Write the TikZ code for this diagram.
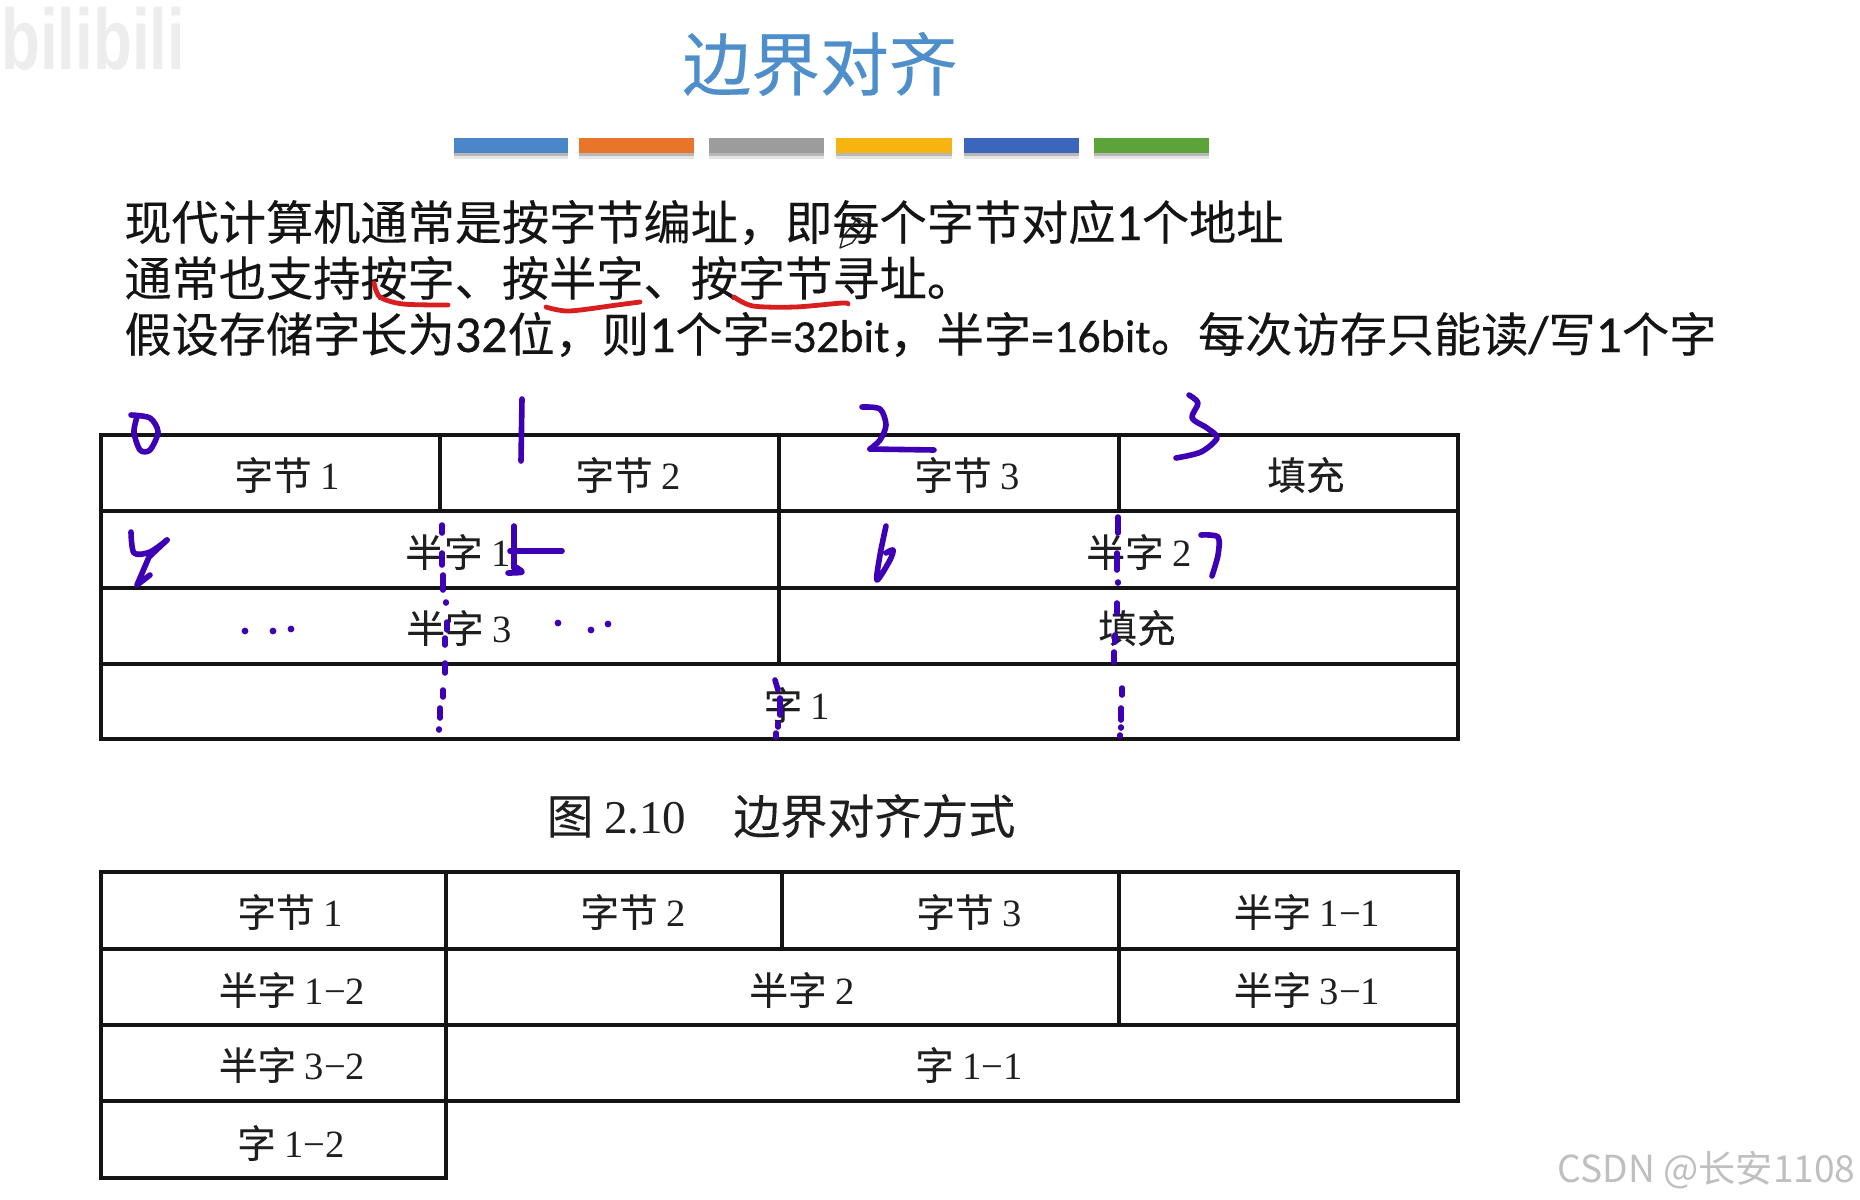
\documentclass[tikz,border=0pt]{standalone}
\usepackage{fontspec}
\setmainfont{Liberation Serif}
\newfontfamily\cjk{Noto Sans CJK SC}
\newfontfamily\cjkb[FakeBold=0.35]{Noto Sans CJK SC}
\newfontfamily\cjkc[FakeBold=0.15]{Noto Sans CJK SC}
\newfontfamily\wmfont{Liberation Sans}
\newfontfamily\bodylatin[FakeBold=0.5]{Carlito}
\newcommand{\fsz}[1]{\fontsize{#1}{#1}\selectfont}
\definecolor{inkblue}{HTML}{3D00B5}
\definecolor{inkred}{HTML}{D81E1E}
\definecolor{titleblue}{HTML}{4E8FCB}
\definecolor{rulec}{HTML}{141414}
\definecolor{barA}{HTML}{4A86C8}
\definecolor{barB}{HTML}{E8752A}
\definecolor{barC}{HTML}{9C9C9C}
\definecolor{barD}{HTML}{F7B30F}
\definecolor{barE}{HTML}{3A66BC}
\definecolor{barF}{HTML}{5CA33A}
\tikzset{
  x=0.5pt,y=-0.5pt,
  cellbox/.style={draw=rulec,line width=1.8pt,line join=miter},
  cell/.style={inner sep=0pt,font=\fsz{19.3}\cjkc,text=black!88},
  bodyline/.style={inner sep=0pt,anchor=base west,font=\fsz{23.6}\cjkc,text=black!92},
  inkstroke/.style={draw=inkblue,line width=2.8pt,line cap=round,line join=round},
  inkdash/.style={draw=inkblue,line width=2.8pt,line cap=round},
  inkdot/.style={fill=inkblue},
  redink/.style={draw=inkred,line width=2.4pt,line cap=round,line join=round},
}
\newcommand{\lat}[1]{{\rmfamily #1}}
\newcommand{\bl}[1]{{\bodylatin\fontsize{26}{26}\selectfont #1}}
\newcommand{\bls}[1]{{\bodylatin\fontsize{23}{23}\selectfont #1}}
\newcommand{\colorbar}[3]{%
  \fill[black!10] (#1,145) rectangle (#2,159);
  \fill[black!28] (#1,143) rectangle (#2,156);
  \fill[#3] (#1,138) rectangle (#2,153);}
\begin{document}
\begin{tikzpicture}
\useasboundingbox[fill=white] (0,0) rectangle (1860,1200);

% faint logo watermark
\node[inner sep=0pt,anchor=base west,font=\fsz{43}\bfseries\wmfont,text=black!7,xscale=0.74,transform shape] (logo) at (1,69) {bilibili};

% title and colour bars
\node[inner sep=0pt,font=\fsz{34.4}\cjkb,text=titleblue] (title) at (820,64) {边界对齐};
\colorbar{454}{568}{barA}
\colorbar{579}{694}{barB}
\colorbar{709}{824}{barC}
\colorbar{836}{952}{barD}
\colorbar{964}{1079}{barE}
\colorbar{1094}{1209}{barF}

% body text
\node[bodyline] (l1) at (124,240) {现代计算机通常是按字节编址，即每个字节对应\bl{1}个地址};
\node[bodyline] (l2) at (124,296) {通常也支持按字、按半字、按字节寻址。};
\node[bodyline] (l3) at (124,352) {假设存储字长为\bl{32}位，则\bl{1}个字\bls{=32bit}，半字\bls{=16bit}。每次访存只能读\bl{/}写\bl{1}个字};

% pencil cursor over the first line
\draw[black!85,line width=0.7pt,line join=round] (840,248) -- (843,237) -- (858,218) -- (867,223) -- (852,243) -- cycle;

% table 1
\draw[cellbox] (101,435) rectangle (1458,739);
\draw[cellbox] (101,511) -- (1458,511);
\draw[cellbox] (101,588) -- (1458,588);
\draw[cellbox] (101,664) -- (1458,664);
\draw[cellbox] (440,435) -- (440,511);
\draw[cellbox] (779,435) -- (779,664);
\draw[cellbox] (1119,435) -- (1119,511);

\node[cell] (a1) at (287,475) {字节 \lat{1}};
\node[cell] (a2) at (628,475) {字节 \lat{2}};
\node[cell] (a3) at (967,475) {字节 \lat{3}};
\node[cell] (a4) at (1306,475) {填充};
\node[cell] (a5) at (458,552) {半字 \lat{1}};
\node[cell] (a6) at (1139,552) {半字 \lat{2}};
\node[cell] (a7) at (459,628) {半字 \lat{3}};
\node[cell] (a8) at (1137,628) {填充};
\node[cell] (a9) at (797,705) {字 \lat{1}};

% caption
\node[inner sep=0pt,font=\fsz{23.5}\cjkc,text=black!88] (cap) at (781,816) {图 \lat{2.10}\hspace{1em}边界对齐方式};

% table 2
\draw[cellbox] (101,872) rectangle (1458,1101);
\draw[cellbox] (101,949) -- (1458,949);
\draw[cellbox] (101,1025) -- (1458,1025);
\draw[cellbox] (446,872) -- (446,1178) -- (101,1178) -- (101,1101);
\draw[cellbox] (782,872) -- (782,949);
\draw[cellbox] (1119,872) -- (1119,1025);

\node[cell] (b1) at (290,912) {字节 \lat{1}};
\node[cell] (b2) at (633,912) {字节 \lat{2}};
\node[cell] (b3) at (969,912) {字节 \lat{3}};
\node[cell] (b4) at (1307,912) {半字 \lat{1−1}};
\node[cell] (b5) at (292,990) {半字 \lat{1−2}};
\node[cell] (b6) at (802,990) {半字 \lat{2}};
\node[cell] (b7) at (1307,990) {半字 \lat{3−1}};
\node[cell] (b8) at (292,1065) {半字 \lat{3−2}};
\node[cell] (b9) at (969,1065) {字 \lat{1−1}};
\node[cell] (b10) at (291,1143) {字 \lat{1−2}};

% CSDN watermark
\node[inner sep=0pt,anchor=east,font=\fsz{18.6}\cjk,text=black!25] (csdn) at (1856,1170) {CSDN @长安1108};

% red handwriting
\draw[redink] plot[smooth] coordinates {(374,283) (380,297) (403,304) (448,305)};
\draw[redink] plot[smooth] coordinates {(546,307) (569,311) (617,305) (640,302)};
\draw[redink] plot[smooth] coordinates {(734,297) (753,306) (795,307) (842,303) (848,304)};

% blue handwriting: digits
\draw[inkstroke] plot[smooth] coordinates {(131,415) (150,418) (158,432) (150,450) (140,450) (134,432) (137,417)};
\draw[inkstroke] (522,399) -- (521,461);
\draw[inkstroke] plot[smooth] coordinates {(862,407) (880,409) (886,425) (880,440) (870,449)};
\draw[inkstroke] (870,449) -- (934,450);
\draw[inkstroke] plot[smooth] coordinates {(1189,395) (1198,403) (1192,418) (1207,428) (1217,438) (1201,452) (1176,458)};
\draw[inkstroke] plot[smooth] coordinates {(131,532) (134,553) (150,552) (167,540)};
\draw[inkstroke] (167,540) -- (149,557) -- (137,585) -- (150,575);
\draw[inkstroke] (514,526) -- (514,568);
\draw[inkstroke] (510,551) -- (562,551);
\draw[inkstroke] plot[smooth] coordinates {(514,566) (522,572) (508,573)};
\draw[inkstroke] plot[smooth] coordinates {(886,526) (880,555) (877,580) (890,560) (893,550) (886,553)};
\draw[inkstroke] plot[smooth] coordinates {(1201,535) (1218,537) (1218,555) (1212,576)};

% blue handwriting: dotted boundaries
\foreach \xa/\ya/\xb/\yb in {
  442/525/442/533, 442/553/442/565, 443/575/443/590, 446/602/446/603, 447/622/447/630,
  445/638/445/645, 445/663/445/673, 443/690/443/697, 440/708/440/718, 439/729/439/730,
  775/680/778/690, 780/698/780/715, 778/723/778/727, 776/733/776/737,
  1118/517/1118/533, 1117/553/1117/570, 1118/582/1118/583, 1117/603/1117/613,
  1115/635/1115/642, 1114/652/1114/662, 1122/688/1122/695, 1121/708/1121/720,
  1121/727/1121/728, 1120/735/1120/736}
  {\draw[inkdash] (\xa,\ya) -- (\xb,\yb);}
\foreach \xa/\ya in {245/631, 273/631, 291/629, 558/623, 591/630, 608/624}
  {\fill[inkdot] (\xa,\ya) circle (1.7pt);}
\end{tikzpicture}
\end{document}
